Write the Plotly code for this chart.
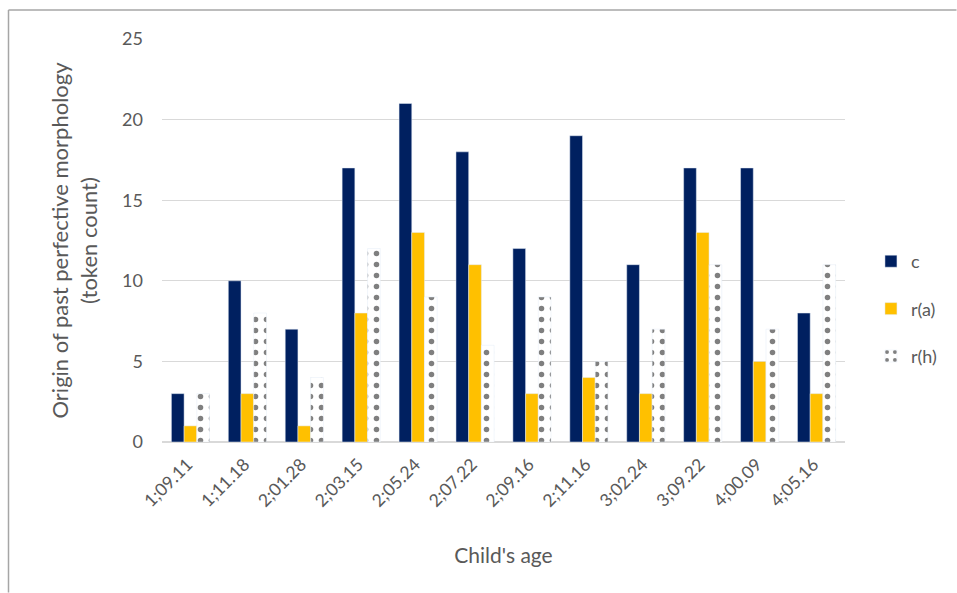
import plotly.graph_objects as go

ages = ["1;09.11", "1;11.18", "2;01.28", "2;03.15", "2;05.24", "2;07.22",
        "2;09.16", "2;11.16", "3;02.24", "3;09.22", "4;00.09", "4;05.16"]
c_vals = [3, 10, 7, 17, 21, 18, 12, 19, 11, 17, 17, 8]
ra_vals = [1, 3, 1, 8, 13, 11, 3, 4, 3, 13, 5, 3]
rh_vals = [3, 8, 4, 12, 9, 6, 9, 5, 7, 11, 7, 11]
y_ticks = [0, 5, 10, 15, 20, 25]

FONT = "Lato, Calibri, sans-serif"
GRAY = "#595959"

fig = go.Figure()
fig.add_trace(go.Bar(x=ages, y=c_vals, name="c", marker_color="#002060",
                     legendgroup="c"))
fig.add_trace(go.Bar(x=ages, y=ra_vals, name="r(a)", marker_color="#FFC000",
                     legendgroup="ra"))
fig.add_trace(go.Bar(x=ages, y=rh_vals, name="r(h)", legendgroup="rh",
                     marker=dict(color="white",
                                 pattern=dict(shape=".", fgcolor="#000000",
                                              bgcolor="white", size=11,
                                              solidity=0.2))))

W, H = 957, 593
L, R, T, B = 162, 112, 39, 151
pw, ph = W - L - R, H - T - B
bx = (8.5 - L) / pw
by = 1 + (T - 10) / ph
rx = (W - 0.5 - L) / pw
bb = -(B - 0.5) / ph

fig.update_layout(
    width=W, height=H,
    margin=dict(l=L, r=R, t=T, b=B),
    paper_bgcolor="white", plot_bgcolor="white",
    barmode="group", bargap=0.33, bargroupgap=0,
    font=dict(family=FONT, color=GRAY, size=16),
    legend=dict(x=1.038, y=0.33, xanchor="left", yanchor="middle",
                font=dict(size=18, color=GRAY), tracegroupgap=21,
                itemwidth=30),
    xaxis=dict(tickangle=-45, tickfont=dict(size=17.5, color=GRAY),
               ticklabelstandoff=8, ticklabelshift=-3,
               title=dict(text="Child's age", font=dict(size=21, color=GRAY),
                          standoff=38),
               showline=False, ticks=""),
    yaxis=dict(range=[0, 25], tickvals=y_ticks, gridcolor="#D9D9D9",
               gridwidth=1.3, zeroline=True, zerolinecolor="#D9D9D9",
               zerolinewidth=1.5, tickfont=dict(size=18, color=GRAY),
               ticklabelstandoff=18,
               title=dict(text="Origin of past perfective morphology<br>(token count)",
                          font=dict(size=22, color=GRAY), standoff=18)),
    shapes=[
        dict(type="line", xref="paper", yref="paper", x0=bx, x1=rx, y0=by, y1=by,
             line=dict(color="#A6A6A6", width=1.5)),
        dict(type="line", xref="paper", yref="paper", x0=bx, x1=bx, y0=by, y1=bb,
             line=dict(color="#A6A6A6", width=1.5)),
    ],
)

fig.write_html("out.html", config={"displayModeBar": False},
               post_script="document.body.style.margin='0';")
